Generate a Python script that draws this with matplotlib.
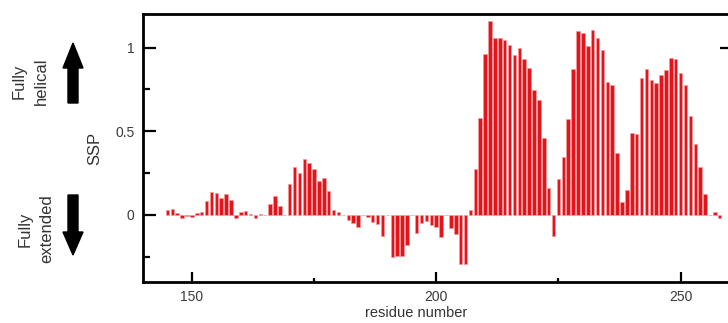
import numpy as np
import matplotlib.pyplot as plt
from matplotlib.patches import FancyArrow
import matplotlib
matplotlib.rcParams['font.family'] = ['Liberation Sans', 'DejaVu Sans']

# SSP score per residue
residues = np.arange(145, 259)
ssp = [
    0.030, 0.037, 0.010, -0.015, -0.008, -0.014, 0.009, 0.020, 0.085, 0.138,   # 145-154
    0.132, 0.104, 0.128, 0.087, -0.020, 0.018, 0.025, 0.006, -0.020, 0.006,    # 155-164
    0.0, 0.068, 0.114, 0.054, 0.0, 0.188, 0.284, 0.252, 0.332, 0.308,          # 165-174
    0.274, 0.202, 0.222, 0.144, 0.030, 0.016, 0.0, -0.030, -0.050, -0.070,     # 175-184
    0.0, -0.010, -0.040, -0.054, -0.128, 0.0, -0.252, -0.244, -0.244, -0.177,  # 185-194
    0.0, -0.110, -0.050, -0.035, -0.060, -0.074, -0.130, 0.0, -0.075, -0.113,  # 195-204
    -0.292, -0.292, 0.032, 0.276, 0.578, 0.964, 1.158, 1.054, 1.058, 1.042,    # 205-214
    1.016, 0.958, 1.000, 0.934, 0.878, 0.744, 0.684, 0.458, 0.164, -0.128,     # 215-224
    0.214, 0.346, 0.572, 0.872, 1.098, 1.088, 1.008, 1.102, 1.058, 0.988,      # 225-234
    0.796, 0.776, 0.368, 0.076, 0.148, 0.488, 0.484, 0.818, 0.874, 0.808,      # 235-244
    0.788, 0.838, 0.868, 0.938, 0.934, 0.848, 0.776, 0.594, 0.424, 0.284,      # 245-254
    0.128, 0.0, 0.020, -0.020,                                                 # 255-258
]
x_ticks = [150, 200, 250]
y_ticks = [0, 0.5, 1]
y_tick_labels = ['0', '0.5', '1']

W, H = 728, 323
fig = plt.figure(figsize=(W / 100, H / 100), dpi=100)
ax = fig.add_axes([143 / W, 1 - 282 / H, (729.5 - 143) / W, (282 - 14) / H])

ax.bar(residues, ssp, width=0.72, color='#e3141c', edgecolor='#f29a9a', linewidth=0.5)

ax.set_xlim(140, 260)
ax.set_ylim(-0.4, 1.2)
ax.set_xticks(x_ticks)
ax.set_xticks([175, 225], minor=True)
ax.set_yticks(y_ticks)
ax.set_yticklabels(y_tick_labels)
ax.set_yticks([-0.25, 0.25, 0.75], minor=True)

for s in ax.spines.values():
    s.set_linewidth(2)
ax.tick_params(axis='both', which='both', direction='in', width=1.6,
               labelsize=10, labelcolor='#3a3a3a')
ax.tick_params(axis='x', which='major', length=7, pad=6)
ax.tick_params(axis='x', which='minor', length=3)
ax.tick_params(axis='y', which='major', length=9, pad=6)
ax.tick_params(axis='y', which='minor', length=5)

ax2 = ax.secondary_yaxis('right')
ax2.set_yticks([1])
ax2.tick_params(direction='in', length=7, width=1.6, labelright=False)

ax.set_xlabel('residue number', fontsize=10.5, color='#333333')
ax.xaxis.set_label_coords((416 - 143) / (729.5 - 143), -0.09)
ax.set_ylabel('SSP', fontsize=12, color='#333333')
ax.yaxis.set_label_coords(-(143 - 102) / (729.5 - 143), 0.5)

fig.text(30 / W, 1 - 81 / H, 'Fully\nhelical', rotation=90, ha='center', va='center',
         fontsize=12, color='#333333', linespacing=1.6)
fig.text(36 / W, 1 - 229 / H, 'Fully\nextended', rotation=90, ha='center', va='center',
         fontsize=12, color='#333333', linespacing=1.6)

fig.add_artist(FancyArrow(73 / W, 1 - 103 / H, 0, (103 - 43) / H, width=10 / W,
                          head_width=20 / W, head_length=25 / H,
                          length_includes_head=True, color='black',
                          transform=fig.transFigure))
fig.add_artist(FancyArrow(73 / W, 1 - 195 / H, 0, -(255 - 195) / H, width=10 / W,
                          head_width=20 / W, head_length=23 / H,
                          length_includes_head=True, color='black',
                          transform=fig.transFigure))

fig.savefig('out.png', dpi=100)
